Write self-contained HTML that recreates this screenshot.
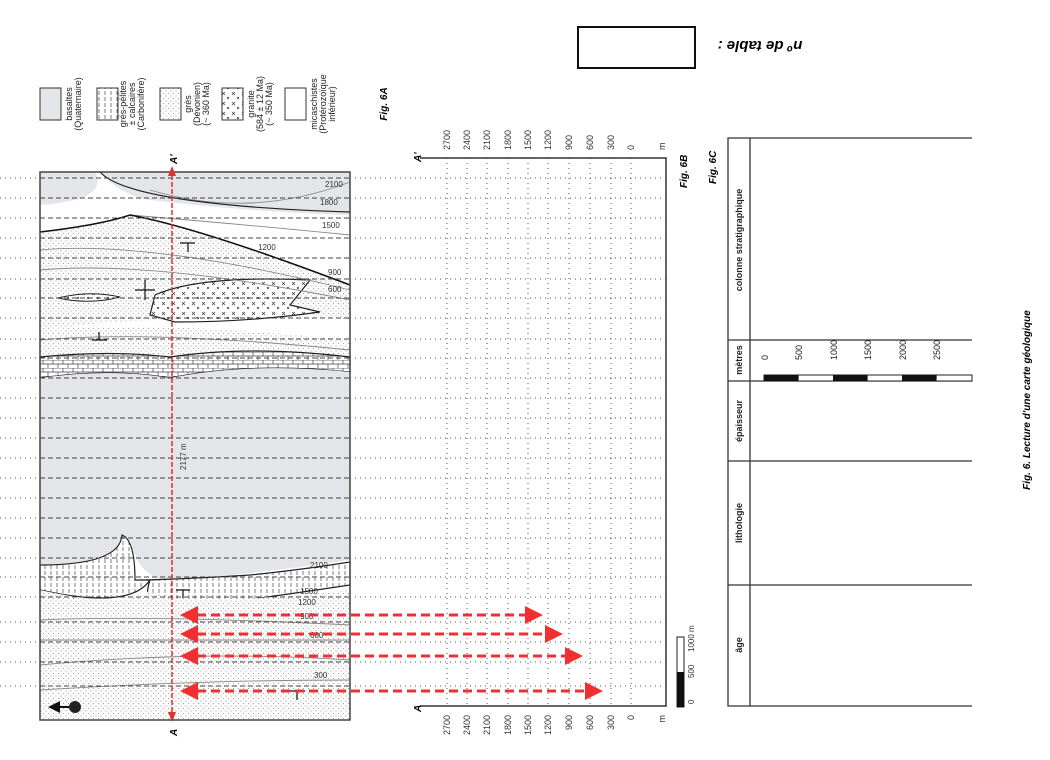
<!DOCTYPE html>
<html><head><meta charset="utf-8"><style>
body{margin:0;background:#fff}
svg{display:block;font-family:"Liberation Sans",sans-serif}
</style></head><body>
<svg width="1050" height="760" viewBox="0 0 1050 760" xmlns="http://www.w3.org/2000/svg">
<defs>
<pattern id="dots" width="5" height="5" patternUnits="userSpaceOnUse"><rect width="5" height="5" fill="#fcfcfc"/><circle cx="1" cy="1" r="0.5" fill="#888"/><circle cx="3.5" cy="3.5" r="0.5" fill="#888"/></pattern>
<pattern id="brick" width="10" height="8" patternUnits="userSpaceOnUse"><rect width="10" height="8" fill="#fff"/><path d="M0 0H10M0 4H10M3 0V4M8 4V8" stroke="#444" stroke-width="0.7"/></pattern>
<pattern id="hatch" width="6" height="6" patternUnits="userSpaceOnUse"><rect width="6" height="6" fill="#fff"/><path d="M3 1V5" stroke="#444" stroke-width="0.7"/></pattern>
<pattern id="cross" width="10" height="10" patternUnits="userSpaceOnUse"><rect width="10" height="10" fill="#fff"/><path d="M2 2l3 3M5 2l-3 3M7 7l2 2M9 7l-2 2" stroke="#333" stroke-width="0.6"/></pattern>
<marker id="ah" markerWidth="6" markerHeight="6" refX="5" refY="3" orient="auto"><path d="M0 0L6 3L0 6z" fill="#f03030"/></marker>
<marker id="ahs" markerWidth="6" markerHeight="6" refX="1" refY="3" orient="auto"><path d="M6 0L0 3L6 6z" fill="#f03030"/></marker>
<marker id="ahk" markerWidth="6" markerHeight="6" refX="5" refY="3" orient="auto"><path d="M0 0L6 3L0 6z" fill="#111"/></marker>
</defs>

<rect x="578" y="27" width="117" height="41" fill="#fff" stroke="#111" stroke-width="2"/>
<text transform="translate(760,45) rotate(180)" text-anchor="middle" font-size="15" font-weight="bold" font-style="italic" dominant-baseline="middle">nº de table :</text>

<rect x="40" y="88" width="21" height="32" fill="#e4e5e8" stroke="#333"/>
<rect x="97" y="88" width="21" height="32" fill="url(#hatch)" stroke="#333"/>
<rect x="160" y="88" width="21" height="32" fill="url(#dots)" stroke="#333"/>
<rect x="222" y="88" width="21" height="32" fill="url(#cross)" stroke="#333"/>
<rect x="285" y="88" width="21" height="32" fill="#fff" stroke="#333"/>
<g font-size="9" fill="#222" text-anchor="middle">
<text transform="translate(72,104) rotate(-90)"><tspan x="0" dy="0">basaltes</tspan><tspan x="0" dy="9">(Quaternaire)</tspan></text>
<text transform="translate(126,104) rotate(-90)"><tspan x="0" dy="0">grés-pélites</tspan><tspan x="0" dy="9">± calcaires</tspan><tspan x="0" dy="9">(Carbonifère)</tspan></text>
<text transform="translate(191,104) rotate(-90)"><tspan x="0" dy="0">grès</tspan><tspan x="0" dy="9">(Dévonien)</tspan><tspan x="0" dy="9">(~ 360 Ma)</tspan></text>
<text transform="translate(254,104) rotate(-90)"><tspan x="0" dy="0">granite</tspan><tspan x="0" dy="9">(584 ± 12 Ma)</tspan><tspan x="0" dy="9">(~ 350 Ma)</tspan></text>
<text transform="translate(317,104) rotate(-90)"><tspan x="0" dy="0">micaschistes</tspan><tspan x="0" dy="9">(Protérozoïque</tspan><tspan x="0" dy="9">inférieur)</tspan></text>
</g>
<text transform="translate(387,104) rotate(-90)" text-anchor="middle" font-size="10" font-weight="bold" font-style="italic">Fig. 6A</text>

<g>
<rect x="40" y="172" width="310" height="548" fill="#fff"/>
<path d="M40 172H350V215Q250 212 150 200Q120 195 100 172Z" fill="#e4e5e8"/>
<path d="M40 172H95Q110 200 40 205Z" fill="#e4e5e8"/>
<path d="M40 232Q100 225 130 215Q200 228 350 285V320Q250 305 170 320Q120 320 40 330Z" fill="url(#dots)"/>
<path d="M155 295Q200 275 310 280L290 305L320 312Q250 322 175 322L150 315Z" fill="url(#cross)" stroke="#222" stroke-width="1.2"/>
<path d="M58 298Q90 290 120 297Q90 305 58 298Z" fill="url(#cross)" stroke="#222"/>
<path d="M40 330Q150 320 350 340V360Q250 345 170 360Q110 352 40 358Z" fill="url(#dots)"/>
<path d="M40 357Q110 350 170 357Q250 345 350 357V372Q250 362 170 378Q110 368 40 378Z" fill="url(#brick)" stroke="#222" stroke-width="1.2"/>
<path d="M40 378Q110 368 170 378Q250 362 350 372V560Q250 575 170 580Q140 580 130 540Q120 565 40 565Z" fill="#e4e5e8"/>
<path d="M40 565Q120 565 122 535Q135 540 135 580Q170 580 250 575Q300 570 350 562V585Q250 600 170 610Q140 610 150 580Q130 610 40 590Z" fill="url(#hatch)" stroke="#222" stroke-width="1.2"/>
<path d="M40 590Q130 610 150 590Q160 610 350 590V720H40Z" fill="url(#dots)"/>
<g fill="none" stroke="#888" stroke-width="0.9">
<path d="M40 250Q150 240 350 290"/><path d="M40 270Q150 260 350 300"/><path d="M40 340Q150 330 350 350"/>
<path d="M150 190Q250 220 350 182"/><path d="M130 215Q250 225 350 235"/>
<path d="M40 620Q150 615 350 625"/><path d="M40 640Q200 640 350 640"/><path d="M40 665Q200 650 350 660"/><path d="M40 690Q200 680 350 680"/>
</g>
<path d="M40 232Q100 225 130 215Q200 228 350 285" fill="none" stroke="#111" stroke-width="1.6"/>
<path d="M100 172Q130 205 350 212" fill="none" stroke="#222" stroke-width="1.2"/>
<rect x="40" y="172" width="310" height="548" fill="none" stroke="#444" stroke-width="1.5"/>
</g>
<g font-size="8" fill="#333">
<text x="325" y="187">2100</text><text x="320" y="205">1800</text><text x="322" y="228">1500</text><text x="258" y="250">1200</text><text x="328" y="275">900</text><text x="328" y="292">600</text>
<text transform="translate(186,470) rotate(-90)">2177 m</text>
<text x="310" y="568">2100</text><text x="300" y="594">1500</text><text x="298" y="605">1200</text><text x="300" y="619">900</text><text x="310" y="638">600</text><text x="314" y="678">300</text>
</g>
<g stroke="#111" stroke-width="1.2"><path d="M135 290H155M145 280V300"/><path d="M180 243H195M188 243V252"/><path d="M92 340H107M99 332V340"/><path d="M176 590H190M183 590V598"/><path d="M290 691H305M297 691V700"/></g>
<circle cx="75" cy="707" r="6" fill="#222"/><path d="M69 707H50" stroke="#111" stroke-width="2" marker-end="url(#ahk)"/>

<g>
<g stroke="#444" stroke-width="1" stroke-dasharray="5 3">
<path d="M40 178H350M40 198H350M40 218H350M40 238H350M40 258H350M40 279H350M40 298H350M40 318H350M40 339H350M40 358H350M40 378H350M40 398H350M40 418H350M40 438H350M40 458H350M40 478H350M40 498H350M40 518H350M40 538H350M40 558H350M40 577H350M40 597H350M40 622H350M40 642H350M40 662H350M40 686H350"/>
</g>
<g stroke="#555" stroke-width="1" stroke-dasharray="1 4">
<path d="M0 178H40M0 198H40M0 218H40M0 238H40M0 258H40M0 279H40M0 298H40M0 318H40M0 339H40M0 358H40M0 378H40M0 398H40M0 418H40M0 438H40M0 458H40M0 478H40M0 498H40M0 518H40M0 538H40M0 558H40M0 577H40M0 597H40M0 622H40M0 642H40M0 662H40M0 686H40"/>
<path d="M350 178H666M350 198H666M350 218H666M350 238H666M350 258H666M350 279H666M350 298H666M350 318H666M350 339H666M350 358H666M350 378H666M350 398H666M350 418H666M350 438H666M350 458H666M350 478H666M350 498H666M350 518H666M350 538H666M350 558H666M350 577H666M350 597H666M350 622H666M350 642H666M350 662H666M350 686H666"/>
<path d="M447 158V706M467 158V706M487 158V706M508 158V706M528 158V706M548 158V706M569 158V706M590 158V706M611 158V706M631 158V706"/>
</g>
</g>

<path d="M172 168V718" stroke="#e03030" stroke-width="1.5" stroke-dasharray="5 2"/>
<path d="M168 176L172 166L176 176Z M168 712L172 722L176 712Z" fill="#e03030"/>
<text transform="translate(177,164) rotate(-90)" font-size="10" font-weight="bold" font-style="italic">A'</text>
<text transform="translate(177,736) rotate(-90)" font-size="10" font-weight="bold" font-style="italic">A</text>
<g stroke="#f03030" stroke-width="3" stroke-dasharray="9 5" fill="none">
<path d="M183 615H540" marker-start="url(#ahs)" marker-end="url(#ah)"/>
<path d="M183 634H560" marker-start="url(#ahs)" marker-end="url(#ah)"/>
<path d="M183 656H580" marker-start="url(#ahs)" marker-end="url(#ah)"/>
<path d="M183 691H600" marker-start="url(#ahs)" marker-end="url(#ah)"/>
</g>

<path d="M420 158H666V706H420" fill="none" stroke="#333" stroke-width="1.5"/>
<text transform="translate(421,162) rotate(-90)" font-size="10" font-weight="bold" font-style="italic">A'</text>
<text transform="translate(421,712) rotate(-90)" font-size="10" font-weight="bold" font-style="italic">A</text>
<g font-size="9" fill="#333">
<text transform="translate(450,150) rotate(-90)">2700</text><text transform="translate(470,150) rotate(-90)">2400</text><text transform="translate(490,150) rotate(-90)">2100</text><text transform="translate(511,150) rotate(-90)">1800</text><text transform="translate(531,150) rotate(-90)">1500</text><text transform="translate(551,150) rotate(-90)">1200</text><text transform="translate(572,150) rotate(-90)">900</text><text transform="translate(593,150) rotate(-90)">600</text><text transform="translate(614,150) rotate(-90)">300</text><text transform="translate(634,150) rotate(-90)">0</text><text transform="translate(665,150) rotate(-90)">m</text>
<g text-anchor="end">
<text transform="translate(450,715) rotate(-90)">2700</text><text transform="translate(470,715) rotate(-90)">2400</text><text transform="translate(490,715) rotate(-90)">2100</text><text transform="translate(511,715) rotate(-90)">1800</text><text transform="translate(531,715) rotate(-90)">1500</text><text transform="translate(551,715) rotate(-90)">1200</text><text transform="translate(572,715) rotate(-90)">900</text><text transform="translate(593,715) rotate(-90)">600</text><text transform="translate(614,715) rotate(-90)">300</text><text transform="translate(634,715) rotate(-90)">0</text><text transform="translate(665,715) rotate(-90)">m</text>
</g>
</g>
<text transform="translate(687,188) rotate(-90)" font-size="10" font-weight="bold" font-style="italic">Fig. 6B</text>
<text transform="translate(716,184) rotate(-90)" font-size="10" font-weight="bold" font-style="italic">Fig. 6C</text>

<rect x="677" y="637" width="7" height="70" fill="#fff" stroke="#222"/>
<rect x="677" y="672" width="7" height="35" fill="#111"/>
<g font-size="8" fill="#333"><text transform="translate(694,704) rotate(-90)">0</text><text transform="translate(694,678) rotate(-90)">500</text><text transform="translate(694,652) rotate(-90)">1000 m</text></g>

<g stroke="#333" stroke-width="1.3" fill="none">
<path d="M972 138H728V706H972"/><path d="M750 138V706"/>
<path d="M728 340H972M728 381H972M728 461H972M728 585H972"/>
</g>
<rect x="764" y="375" width="208" height="6" fill="#fff" stroke="#222"/>
<rect x="764" y="375" width="34.6" height="6" fill="#111"/><rect x="833" y="375" width="34.6" height="6" fill="#111"/><rect x="902" y="375" width="34.6" height="6" fill="#111"/>
<g font-size="9" fill="#222">
<text transform="translate(768,360) rotate(-90)">0</text><text transform="translate(802,360) rotate(-90)">500</text><text transform="translate(837,360) rotate(-90)">1000</text><text transform="translate(871,360) rotate(-90)">1500</text><text transform="translate(906,360) rotate(-90)">2000</text><text transform="translate(940,360) rotate(-90)">2500</text>
</g>
<g font-size="9" font-weight="bold" fill="#222" text-anchor="middle">
<text transform="translate(742,240) rotate(-90)">colonne stratigraphique</text>
<text transform="translate(742,360) rotate(-90)">mètres</text>
<text transform="translate(742,421) rotate(-90)">épaisseur</text>
<text transform="translate(742,523) rotate(-90)">lithologie</text>
<text transform="translate(742,645) rotate(-90)">âge</text>
</g>
<text transform="translate(1030,400) rotate(-90)" font-size="10" font-weight="bold" font-style="italic" text-anchor="middle">Fig. 6. Lecture d'une carte géologique</text>
</svg>
</body></html>
